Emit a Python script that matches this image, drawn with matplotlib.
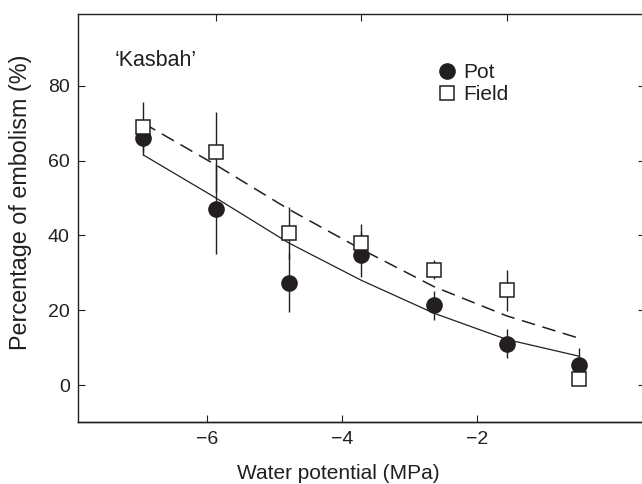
import matplotlib
matplotlib.use('Agg')
import matplotlib.pyplot as plt

plt.rcParams['font.family'] = ['Liberation Sans', 'DejaVu Sans']

INK = '#231f20'

# water potential (MPa)
x = [-7, -6, -5, -4, -3, -2, -1]

# percentage of embolism, mean and error
pot = [66.0, 47.0, 27.4, 34.9, 21.3, 11.0, 5.3]
pot_err = [4.5, 12.0, 8.0, 6.0, 3.8, 3.9, 4.5]
field = [69.0, 62.4, 40.6, 38.1, 30.8, 25.3, 1.7]
field_err = [6.7, 10.7, 7.0, 5.0, 2.5, 5.5, 0.0]

# fitted curves at the same x
pot_fit = [61.5, 50.0, 38.0, 28.0, 19.2, 12.2, 7.7]
field_fit = [70.0, 58.8, 47.0, 36.3, 26.3, 18.5, 12.5]

fig = plt.figure(figsize=(6.42, 4.84), dpi=100)
ax = fig.add_axes([0.1215, 0.1287, 0.8827, 0.8424])

# error bars
ax.errorbar(x, pot, yerr=pot_err, fmt='none', ecolor=INK, elinewidth=1.0, capsize=0, zorder=2)
ax.errorbar(x, field, yerr=field_err, fmt='none', ecolor=INK, elinewidth=1.0, capsize=0, zorder=2)

# fits
ax.plot(x, pot_fit, '-', color=INK, linewidth=0.9, zorder=3)
ax.plot(x, field_fit, color=INK, linewidth=1.1, dashes=(9, 5), zorder=3)

# points
ax.plot(x, pot, 'o', color=INK, markersize=12, markeredgewidth=0, linestyle='none', label='Pot', zorder=4)
ax.plot(x, field, 's', markerfacecolor='white', markeredgecolor=INK, markersize=10, markeredgewidth=1.1,
        linestyle='none', label='Field', zorder=5)

ax.set_xlim(-7.9, -0.1)
ax.set_ylim(-9.8, 99.2)
ax.set_yticks([0, 20, 40, 60, 80])
ax.set_xticks([-6, -4, -2])

ax.tick_params(axis='x', which='both', bottom=False, labelbottom=False, top=True, direction='in',
               length=5, width=0.8, color=INK)
ax.tick_params(axis='y', left=True, right=True, direction='in', length=5, width=0.8, color=INK,
               labelsize=14, labelcolor=INK, pad=6)
for s in ax.spines.values():
    s.set_linewidth(1.0)
    s.set_color(INK)

# bottom scale of the original is slightly offset from the data columns
def fwd(v):
    return 1.0766 * (v + 7) - 6.939

def inv(v):
    return (v + 6.939) / 1.0766 - 7

sec = ax.secondary_xaxis('bottom', functions=(fwd, inv))
sec.set_xticks([-6, -4, -2])
sec.tick_params(direction='in', length=5, width=0.8, color=INK, labelsize=14, labelcolor=INK, pad=7)
sec.spines['bottom'].set_linewidth(1.0)
sec.spines['bottom'].set_color(INK)
sec.set_xlabel('Water potential (MPa)', fontsize=15, color=INK)
sec.xaxis.set_label_coords(0.459, -0.104, transform=ax.transAxes)

ax.set_ylabel('Percentage of embolism (%)', fontsize=16.8, color=INK)
ax.yaxis.set_label_coords(-0.081, 0.539, transform=ax.transAxes)

ax.text(0.065, 0.887, '\u2018Kasbah\u2019', transform=ax.transAxes, fontsize=15.5, color=INK,
        va='center', ha='left')

ax.legend(loc='upper left', bbox_to_anchor=(0.618, 0.905), frameon=False, fontsize=15,
          handlelength=0.8, handletextpad=0.4, labelspacing=0.15, borderpad=0, labelcolor=INK)

fig.savefig('out.png', dpi=100)
